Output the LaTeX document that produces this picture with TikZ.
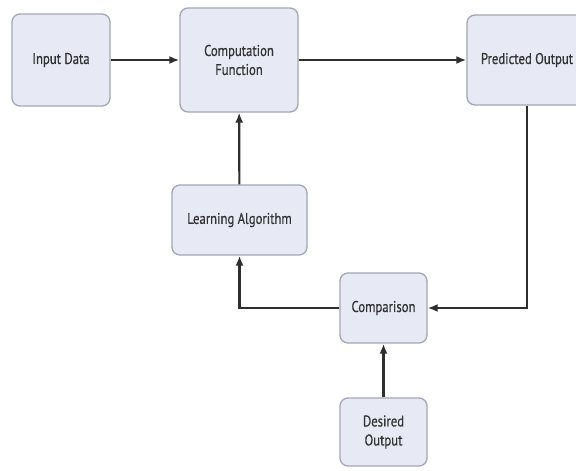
\documentclass[tikz,border=0pt]{standalone}
\usepackage{fontspec}
\setmainfont{PT Sans}[FakeStretch=0.82,FakeBold=0.5]
\usetikzlibrary{arrows.meta}
\definecolor{boxfill}{HTML}{E7EAF5}
\definecolor{boxline}{HTML}{A3A7B4}
\definecolor{pijlkleur}{HTML}{2E2E2E}

\begin{document}
\begin{tikzpicture}[x=1pt,y=-1pt,
    blok/.style={draw=boxline,fill=boxfill,rounded corners=8pt,line width=1.3pt,
        align=center,inner sep=0pt,font=\fontsize{15.5}{19}\selectfont,text=black!80},
    pijl/.style={-{Latex[length=10pt,width=8pt]},line width=2.2pt,draw=pijlkleur}]
\useasboundingbox[fill=white] (0,0) rectangle (576,471);

% bovenste rij
\node[blok,minimum width=98pt,minimum height=92pt] (input) at (61,60) {Input Data};
\node[blok,minimum width=118pt,minimum height=104pt] (comp) at (239,60) {Computation\\Function};
\node[blok,minimum width=120pt,minimum height=90pt] (pred) at (527,60) {Predicted Output};

% terugkoppeling
\node[blok,minimum width=135pt,minimum height=70pt] (learn) at (239.5,220) {Learning Algorithm};
\node[blok,minimum width=87pt,minimum height=70pt] (cmp) at (383.5,308) {Comparison};
\node[blok,minimum width=87pt,minimum height=68pt] (desired) at (383.5,432) {Desired\\Output};

\draw[pijl] (input) -- (comp);
\draw[pijl] (comp) -- (pred);
\draw[pijl] (pred.south) |- (cmp.east);
\draw[pijl] (cmp.west) -| (learn.south);
\draw[pijl] (learn) -- (comp);
\draw[pijl] (desired) -- (cmp);
\end{tikzpicture}
\end{document}
